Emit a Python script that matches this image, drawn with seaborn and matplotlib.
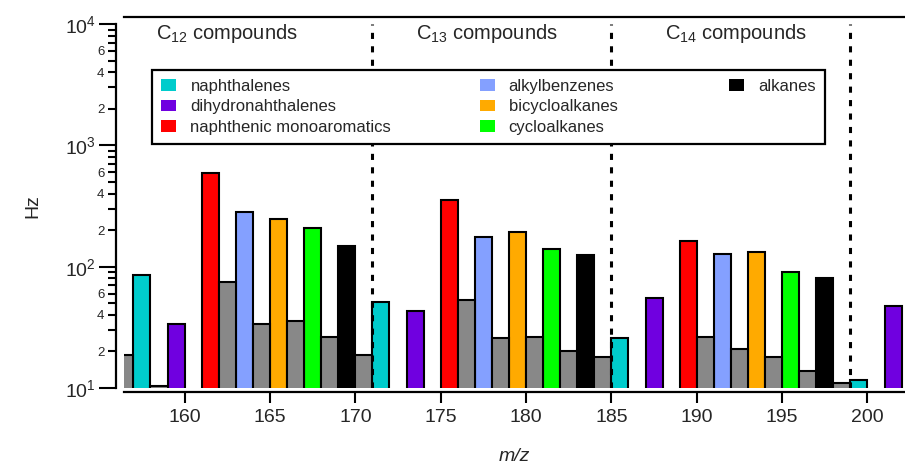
import numpy as np
import pandas as pd
import matplotlib
matplotlib.use("Agg")
import matplotlib.pyplot as plt
import matplotlib.transforms as mtransforms
from matplotlib.patches import Patch
from matplotlib.ticker import LogLocator, FuncFormatter, LogFormatterSciNotation, FixedLocator
import seaborn as sns

# ---------------- data ----------------
classes = ["naphthalenes", "dihydronahthalenes", "naphthenic monoaromatics",
           "alkylbenzenes", "bicycloalkanes", "cycloalkanes", "alkanes"]
class_colors = ["#00CCCC", "#7000E0", "#FF0000", "#84A0FF", "#FFAA00", "#00FF00", "#000000"]
other_color = "#888888"

# colored bars (m/z, Hz), one per class in each carbon group
c12_mz = [157, 159, 161, 163, 165, 167, 169]
c12_hz = [85, 34, 589, 284, 246, 207, 148]
c13_mz = [171, 173, 175, 177, 179, 181, 183]
c13_hz = [51, 43, 355, 175, 193, 140, 125]
c14_mz = [185, 187, 189, 191, 193, 195, 197]
c14_hz = [25.7, 55, 164, 127, 132, 90, 80]
c15_mz = [199, 201]
c15_hz = [11.6, 47]
# gray (unassigned) bars
other_mz = [156, 158, 162, 164, 166, 168, 170, 176, 178, 180, 182, 184,
            190, 192, 194, 196, 198]
other_hz = [18.7, 10.4, 75, 33.5, 35.5, 26.5, 18.7, 53, 25.7, 26.2, 20.1, 17.9,
            26.2, 21, 18.1, 13.8, 11.1]

group_labels = ["C$_{12}$ compounds", "C$_{13}$ compounds", "C$_{14}$ compounds"]
group_label_x = [162.5, 177.7, 192.3]
group_dividers = [171, 185, 199]
x_ticks = [160, 165, 170, 175, 180, 185, 190, 195, 200]

# ---------------- table ----------------
rows = []
for mzs, hzs in [(c12_mz, c12_hz), (c13_mz, c13_hz), (c14_mz, c14_hz), (c15_mz, c15_hz)]:
    for i, (m, h) in enumerate(zip(mzs, hzs)):
        rows.append({"mz": m, "hz": h, "cls": classes[i]})
for m, h in zip(other_mz, other_hz):
    rows.append({"mz": m, "hz": h, "cls": "other"})
df = pd.DataFrame(rows)
df["center"] = df["mz"] + 0.5   # bars span [m/z, m/z+1]

palette = dict(zip(classes, class_colors))
palette["other"] = other_color

# ---------------- style ----------------
sns.set_theme(style="ticks")
plt.rcParams["font.family"] = ["Liberation Sans", "DejaVu Sans"]
plt.rcParams["mathtext.fontset"] = "custom"
plt.rcParams["mathtext.rm"] = "Liberation Sans"
plt.rcParams["mathtext.it"] = "Liberation Sans:italic"
plt.rcParams["mathtext.bf"] = "Liberation Sans:bold"

fig = plt.figure(figsize=(9.05, 4.70), dpi=100)
ax = fig.add_axes([124 / 905, 82 / 470, 781 / 905, 364 / 470])

sns.barplot(data=df, x="center", y="hz", hue="cls",
            hue_order=classes + ["other"], palette=palette,
            native_scale=True, dodge=False, width=1, saturation=1,
            edgecolor="black", linewidth=1.5, errorbar=None,
            legend=False, ax=ax)

ax.set_yscale("log")
ax.set_ylim(10, 1e4)
ax.set_xlim(156.45, 202.2)

# dividers
for xv in group_dividers:
    ax.axvline(xv, color="black", lw=2.2, ls=(0, (2.0, 2.4)), zorder=1)

# group labels
trans = mtransforms.blended_transform_factory(ax.transData, ax.transAxes)
for lab, xv in zip(group_labels, group_label_x):
    ax.text(xv, 0.975, lab, transform=trans, ha="center", va="center", fontsize=14.5)

# spines
ax.spines["right"].set_visible(False)
for s in ["left", "bottom", "top"]:
    ax.spines[s].set_linewidth(1.6)
    ax.spines[s].set_color("black")
ax.spines["left"].set_position(("outward", 6))
ax.spines["bottom"].set_position(("outward", 3))
ax.spines["top"].set_position(("outward", 5))

# ticks
ax.xaxis.set_major_locator(FixedLocator(x_ticks))
ax.set_xticklabels([str(t) for t in x_ticks])
ax.tick_params(axis="x", which="major", length=8, width=1.5, labelsize=14, pad=4, color="black")
ax.tick_params(axis="x", which="minor", length=0)
ax.yaxis.set_major_locator(LogLocator(base=10, numticks=10))
ax.yaxis.set_major_formatter(LogFormatterSciNotation())
ax.yaxis.set_minor_locator(LogLocator(base=10, subs=np.arange(2, 10), numticks=50))

def minor_fmt(v, pos):
    e = np.floor(np.log10(v))
    m = int(round(v / 10 ** e))
    return str(m) if m in (2, 4, 6) else ""

ax.yaxis.set_minor_formatter(FuncFormatter(minor_fmt))
ax.tick_params(axis="y", which="major", length=12, width=1.5, labelsize=14, pad=2, color="black")
ax.tick_params(axis="y", which="minor", length=6, width=1.5, labelsize=9.5, pad=2, color="black")

ax.set_xlabel("m/z", fontsize=14, style="italic", labelpad=16)
ax.set_ylabel("Hz", fontsize=14, labelpad=17)

# legend
handles = [Patch(facecolor=c, edgecolor="none") for c in class_colors]
blank = Patch(facecolor="none", edgecolor="none")
leg_handles = handles[:3] + handles[3:6] + [handles[6], blank, blank]
col2 = [classes[3], classes[4] + "     ", classes[5]]
leg_labels = classes[:3] + col2 + [classes[6], "", ""]
leg = ax.legend(leg_handles, leg_labels, ncol=3, loc="upper left",
                bbox_to_anchor=(0.036, 0.874), borderaxespad=0,
                fontsize=12, frameon=True, fancybox=False,
                handlelength=0.9, handleheight=0.7, handletextpad=0.85,
                columnspacing=5.3, labelspacing=0.32, borderpad=0.55)
leg.get_frame().set_edgecolor("black")
leg.get_frame().set_linewidth(1.6)
leg.get_frame().set_facecolor("white")
leg.get_frame().set_alpha(1)
leg.set_zorder(5)

fig.savefig("out.png", dpi=100)
